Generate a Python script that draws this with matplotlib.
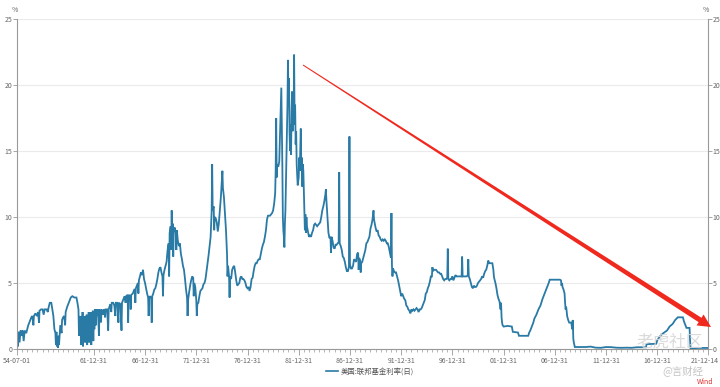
import matplotlib
matplotlib.use("Agg")
import matplotlib.pyplot as plt
from matplotlib.patches import Polygon
from matplotlib.lines import Line2D
import numpy as np

plt.rcParams['font.family'] = ['Noto Sans CJK SC', 'DejaVu Sans']

# ---- data (decimal year, rate %) ----
years = [
 1954.50,1954.55,1954.60,1954.65,1954.75,1954.85,1954.95,1955.05,1955.15,1955.25,1955.40,1955.50,1955.60,1955.70,1955.80,1955.90,
 1956.00,1956.10,1956.15,1956.30,1956.45,1956.55,1956.65,1956.70,1956.85,1957.00,1957.10,1957.20,1957.40,1957.50,1957.60,1957.70,
 1957.85,1957.95,1958.05,1958.15,1958.25,1958.30,1958.35,1958.40,1958.45,1958.50,1958.55,1958.60,1958.70,1958.75,1958.85,1958.90,
 1959.00,1959.10,1959.20,1959.25,1959.40,1959.50,1959.60,1959.75,1959.90,1960.10,1960.30,1960.40,1960.50,1960.55,1960.60,1960.70,
 1960.75,1960.80,1960.85,1960.90,1960.95,1961.00,1961.05,1961.10,1961.15,1961.20,1961.25,1961.30,1961.35,1961.40,1961.45,1961.50,
 1961.55,1961.60,1961.65,1961.70,1961.75,1961.80,1961.85,1961.90,1961.95,1962.00,1962.05,1962.10,1962.20,1962.25,1962.35,1962.40,
 1962.50,1962.55,1962.70,1962.75,1962.90,1963.00,1963.10,1963.15,1963.30,1963.40,1963.45,1963.60,1963.70,1963.75,1963.90,1964.00,
 1964.10,1964.15,1964.30,1964.40,1964.45,1964.60,1964.70,1964.75,1964.90,1965.00,1965.10,1965.15,1965.30,1965.35,1965.40,1965.55,
 1965.60,1965.65,1965.80,1965.95,1966.00,1966.05,1966.10,1966.20,1966.30,1966.35,1966.40,1966.50,1966.60,1966.70,1966.80,1966.90,
 1967.00,1967.10,1967.20,1967.30,1967.35,1967.40,1967.50,1967.60,1967.65,1967.70,1967.80,1967.90,1968.00,1968.10,1968.20,1968.30,
 1968.40,1968.50,1968.60,1968.70,1968.75,1968.80,1968.90,1969.00,1969.10,1969.20,1969.30,1969.35,1969.40,1969.50,1969.55,1969.60,
 1969.65,1969.70,1969.75,1969.80,1969.90,1970.00,1970.05,1970.10,1970.20,1970.30,1970.40,1970.50,1970.60,1970.70,1970.80,1970.90,
 1971.00,1971.10,1971.15,1971.20,1971.30,1971.40,1971.50,1971.60,1971.70,1971.75,1971.80,1971.90,1972.00,1972.05,1972.10,1972.20,
 1972.30,1972.40,1972.50,1972.60,1972.70,1972.80,1972.90,1973.00,1973.10,1973.20,1973.30,1973.40,1973.45,1973.50,1973.55,1973.60,
 1973.70,1973.75,1973.80,1973.90,1974.00,1974.10,1974.20,1974.30,1974.40,1974.50,1974.55,1974.60,1974.70,1974.80,1974.90,1975.00,
 1975.05,1975.10,1975.20,1975.25,1975.30,1975.40,1975.50,1975.60,1975.70,1975.80,1975.90,1976.00,1976.10,1976.20,1976.30,1976.40,
 1976.50,1976.60,1976.70,1976.80,1976.90,1977.00,1977.10,1977.20,1977.30,1977.40,1977.50,1977.60,1977.70,1977.80,1977.90,1978.00,
 1978.10,1978.20,1978.30,1978.40,1978.50,1978.60,1978.70,1978.80,1978.90,1979.00,1979.10,1979.20,1979.30,1979.40,1979.50,1979.60,
 1979.70,1979.75,1979.80,1979.85,1979.90,1980.00,1980.10,1980.20,1980.30,1980.35,1980.40,1980.45,1980.50,1980.55,1980.60,1980.65,
 1980.70,1980.75,1980.80,1980.85,1980.90,1980.95,1981.00,1981.05,1981.10,1981.15,1981.20,1981.25,1981.30,1981.35,1981.40,1981.45,
 1981.50,1981.55,1981.60,1981.65,1981.70,1981.75,1981.80,1981.85,1981.90,1982.00,1982.05,1982.10,1982.20,1982.25,1982.30,1982.35,
 1982.40,1982.45,1982.50,1982.55,1982.60,1982.65,1982.70,1982.75,1982.80,1982.90,1983.00,1983.10,1983.20,1983.30,1983.40,1983.50,
 1983.60,1983.70,1983.80,1983.90,1984.00,1984.10,1984.20,1984.30,1984.40,1984.50,1984.60,1984.65,1984.70,1984.80,1984.90,1985.00,
 1985.10,1985.15,1985.20,1985.30,1985.40,1985.50,1985.60,1985.70,1985.80,1985.90,1985.95,1986.00,1986.10,1986.20,1986.30,1986.40,
 1986.50,1986.60,1986.70,1986.80,1986.90,1986.95,1987.00,1987.10,1987.20,1987.30,1987.40,1987.50,1987.60,1987.70,1987.80,1987.85,
 1987.90,1988.00,1988.05,1988.10,1988.20,1988.30,1988.40,1988.50,1988.60,1988.70,1988.80,1988.90,1989.00,1989.10,1989.20,1989.30,
 1989.35,1989.40,1989.50,1989.60,1989.70,1989.80,1989.90,1990.00,1990.10,1990.20,1990.30,1990.40,1990.50,1990.60,1990.70,1990.80,
 1990.90,1991.00,1991.05,1991.10,1991.15,1991.20,1991.30,1991.40,1991.50,1991.60,1991.70,1991.80,1991.90,1992.00,1992.10,1992.20,
 1992.30,1992.40,1992.50,1992.60,1992.70,1992.80,1992.90,1993.00,1993.10,1993.20,1993.30,1993.40,1993.50,1993.60,1993.70,1993.80,
 1993.90,1994.00,1994.10,1994.20,1994.30,1994.40,1994.50,1994.60,1994.70,1994.80,1994.90,1995.00,1995.05,1995.10,1995.20,1995.30,
 1995.40,1995.50,1995.60,1995.70,1995.80,1995.90,1996.00,1996.10,1996.20,1996.30,1996.40,1996.50,1996.55,1996.60,1996.70,1996.80,
 1996.90,1997.00,1997.10,1997.20,1997.30,1997.40,1997.50,1997.60,1997.70,1997.80,1997.90,1997.95,1998.00,1998.10,1998.20,1998.30,
 1998.40,1998.50,1998.55,1998.60,1998.70,1998.80,1998.90,1999.00,1999.10,1999.20,1999.30,1999.40,1999.50,1999.60,1999.70,1999.80,
 1999.90,2000.00,2000.10,2000.20,2000.30,2000.40,2000.50,2000.60,2000.70,2000.80,2000.90,2001.00,2001.05,2001.10,2001.20,2001.30,
 2001.40,2001.50,2001.60,2001.70,2001.75,2001.80,2001.85,2001.90,2002.00,2002.40,2002.80,2002.90,2003.40,2003.50,2004.40,2004.50,
 2004.60,2004.70,2004.80,2004.90,2005.00,2005.20,2005.40,2005.60,2005.80,2006.00,2006.20,2006.40,2006.50,2007.00,2007.50,2007.60,
 2007.65,2007.70,2007.75,2007.85,2007.95,2008.00,2008.05,2008.10,2008.15,2008.20,2008.30,2008.40,2008.60,2008.70,2008.75,2008.80,
 2008.85,2008.95,2009.50,2010.00,2010.50,2011.00,2011.50,2012.00,2012.50,2013.00,2013.50,2014.00,2014.50,2015.00,2015.90,2015.95,
 2016.50,2016.90,2017.00,2017.20,2017.50,2017.95,2018.20,2018.50,2018.75,2019.00,2019.50,2019.60,2019.70,2019.85,2020.15,2020.20,
 2020.25,2021.00,2021.95]

rates = [
 0.8,1.3,0.2,1.3,0.5,1.4,1.0,1.4,0.6,1.4,1.2,1.5,1.8,2.0,2.2,2.4,
 2.5,1.8,2.5,2.7,2.5,2.8,2.0,2.9,3.0,3.0,2.6,3.0,3.0,2.8,3.2,3.5,
 3.5,3.0,2.5,1.5,1.2,0.3,1.3,0.2,0.9,0.1,1.0,0.3,1.5,1.8,1.2,2.2,
 2.4,2.5,1.8,2.8,3.2,3.4,3.6,3.9,4.0,3.9,3.9,3.5,3.0,1.0,2.5,2.0,
 0.3,2.5,1.0,2.8,0.2,2.2,0.8,2.5,0.5,2.0,1.0,2.6,0.3,2.0,0.8,2.8,
 0.5,2.5,1.2,2.8,0.3,2.6,1.0,2.9,0.6,2.8,1.5,3.0,1.8,3.0,2.5,3.0,
 1.0,3.0,2.0,3.0,2.6,3.0,2.4,3.0,3.0,1.4,3.0,3.4,2.8,3.5,3.5,3.3,
 2.5,3.5,3.5,2.0,3.5,3.4,1.4,3.5,3.8,4.0,3.5,4.0,4.1,2.0,4.1,4.0,
 3.0,4.1,4.2,4.5,4.5,3.5,4.6,4.8,5.0,4.2,5.2,5.5,5.8,5.6,6.0,5.3,
 5.0,4.6,4.2,3.9,2.5,3.9,4.0,3.8,2.0,4.0,4.2,4.5,4.6,4.9,5.3,5.8,
 6.1,6.2,5.8,5.5,4.0,5.6,6.0,6.3,6.6,7.5,8.0,5.5,8.8,9.3,7.5,10.5,
 8.0,9.5,7.0,9.0,9.2,8.8,7.5,9.0,8.2,7.8,8.0,7.2,6.8,6.3,6.0,5.3,
 4.5,3.9,2.5,3.7,4.3,4.8,5.2,5.5,5.4,4.0,5.0,4.7,3.7,2.5,3.4,3.5,
 4.0,4.4,4.5,4.6,4.9,5.0,5.3,5.9,6.5,7.1,7.8,8.5,9.5,10.4,14.0,10.5,
 10.8,9.0,10.0,9.9,9.6,8.9,9.5,10.5,11.5,12.9,13.5,12.2,11.5,10.2,9.0,7.2,
 5.5,6.3,5.5,3.9,5.5,5.3,6.0,6.2,6.3,5.8,5.2,4.8,4.9,5.0,5.4,5.5,
 5.3,5.3,5.2,5.0,4.7,4.6,4.7,4.4,4.7,5.3,5.4,5.9,6.3,6.5,6.5,6.7,
 6.8,6.8,7.2,7.6,7.9,8.1,8.5,9.0,9.8,10.1,10.1,10.1,10.2,10.3,10.5,11.0,
 11.8,13.5,17.5,13.0,14.0,13.8,14.2,17.0,19.8,17.0,14.0,10.0,9.0,8.5,7.7,9.5,
 10.5,12.5,14.5,16.5,18.5,21.9,19.0,20.5,16.5,15.0,17.0,14.7,18.0,19.5,16.5,19.0,
 17.5,22.3,17.0,18.5,15.5,16.5,14.0,13.2,12.4,13.0,14.5,13.5,16.7,14.0,14.5,12.3,
 14.0,13.5,12.0,10.5,9.0,10.2,8.8,10.0,9.3,8.9,8.5,8.6,8.5,8.8,9.0,9.4,
 9.5,9.4,9.3,9.4,9.5,9.6,10.0,10.5,10.8,11.2,11.7,12.1,11.3,10.0,8.8,8.4,
 8.5,7.3,8.5,8.2,7.7,7.6,7.9,7.9,8.0,8.1,13.4,8.0,7.8,7.5,7.0,6.9,
 6.6,6.2,5.9,5.9,6.2,16.1,6.4,6.1,6.1,6.3,6.8,6.7,6.6,7.2,7.3,6.0,
 6.9,6.7,5.8,6.5,6.6,6.9,7.2,7.5,8.0,8.1,8.3,8.5,9.1,9.4,9.8,10.5,
 9.8,9.6,9.2,8.9,9.0,8.6,8.5,8.3,8.2,8.3,8.2,8.3,8.2,8.0,8.0,7.7,
 7.3,6.9,10.3,6.3,5.5,6.1,5.9,5.8,5.8,5.5,5.2,4.8,4.4,4.0,4.2,4.0,
 3.8,3.7,3.3,3.2,3.0,2.9,2.7,3.0,2.9,3.0,2.9,3.0,3.1,3.0,2.8,3.0,
 3.0,3.1,3.3,3.5,3.7,4.2,4.3,4.6,4.8,5.1,5.5,5.5,6.2,5.9,6.0,6.0,
 6.0,5.9,5.8,5.8,5.7,5.7,5.5,5.3,5.2,5.3,5.3,5.4,7.6,5.3,5.2,5.3,
 5.3,5.5,5.2,5.4,5.6,5.5,5.5,5.5,5.5,5.5,5.5,7.0,5.5,5.5,5.5,5.5,
 5.5,5.6,6.8,5.5,5.3,5.0,4.7,4.6,4.8,4.7,4.7,4.8,5.0,5.1,5.2,5.3,
 5.5,5.4,5.7,5.9,6.0,6.3,6.7,6.5,6.5,6.5,6.5,6.0,5.5,5.3,5.0,4.6,
 4.1,3.8,3.6,3.0,3.5,2.4,2.0,1.8,1.7,1.75,1.7,1.3,1.25,1.0,1.0,1.25,
 1.4,1.6,1.8,2.0,2.3,2.6,3.0,3.3,3.8,4.2,4.6,5.0,5.25,5.25,5.25,5.2,
 4.8,5.0,4.7,4.5,4.2,3.5,3.0,3.2,2.9,2.5,2.2,2.0,2.0,1.5,2.2,0.8,
 0.5,0.15,0.15,0.15,0.18,0.1,0.09,0.15,0.14,0.1,0.09,0.1,0.09,0.13,0.13,0.37,
 0.38,0.4,0.66,0.9,1.15,1.4,1.7,1.9,2.2,2.4,2.4,2.1,1.9,1.6,1.6,0.65,
 0.05,0.08,0.08]

xtick_pos = [1954.5, 1962.0, 1967.0, 1972.0, 1977.0, 1982.0, 1987.0, 1992.0,
             1997.0, 2002.0, 2007.0, 2012.0, 2017.0, 2021.95]
xtick_labels = ['54-07-01', '61-12-31', '66-12-31', '71-12-31', '76-12-31',
                '81-12-31', '86-12-31', '91-12-31', '96-12-31', '01-12-31',
                '06-12-31', '11-12-31', '16-12-31', '21-12-14']
yticks = [0, 5, 10, 15, 20, 25]
series_name = '美国:联邦基金利率(日)'

LINE = '#2a7aa6'
GREY = '#666666'

W, H = 720, 387
fig = plt.figure(figsize=(W / 100, H / 100), dpi=100)
ax = fig.add_axes([17 / W, 1 - 349 / H, (708 - 17) / W, (349 - 19) / H])

ax.plot(years, rates, color=LINE, lw=1.3, solid_joinstyle='miter')
ax.set_xlim(1954.5, 2021.95)
ax.set_ylim(0, 25)

ax.set_yticks(yticks)
ax.yaxis.grid(True, color='#ebebeb', lw=0.8)
ax.set_axisbelow(True)
ax.set_xticks(xtick_pos)
ax.set_xticklabels(xtick_labels)
ax.set_xticks(np.arange(1955.0, 2021.9, 0.5), minor=True)

ax.spines['top'].set_visible(False)
for s in ['left', 'right', 'bottom']:
    ax.spines[s].set_color('#999999')
    ax.spines[s].set_linewidth(0.8)

ax.tick_params(axis='x', which='major', length=4, width=0.6, color='#999999',
               labelsize=5.0, labelcolor=GREY, pad=1.5)
ax.tick_params(axis='x', which='minor', length=2.5, width=0.5, color='#999999')
ax.tick_params(axis='y', which='major', length=3, width=0.6, color='#999999',
               labelsize=5.0, labelcolor=GREY, pad=0.5, left=True, right=True,
               labelleft=True, labelright=True)
# keep the last date label inside the picture
lbls = ax.get_xticklabels()
lbls[-1].set_horizontalalignment('right')
lbls[-1].set_x(2021.95)
import matplotlib.transforms as mtrans
lbls[-1].set_transform(lbls[-1].get_transform() + mtrans.ScaledTranslation(11 / 100, 0, fig.dpi_scale_trans))

fig.text(15 / W, 1 - 10 / H, '%', fontsize=5, color=GREY, ha='center', va='center')
fig.text(706 / W, 1 - 10 / H, '%', fontsize=5, color=GREY, ha='center', va='center')

# legend
handle = Line2D([], [], color=LINE, lw=1.2)
fig.legend([handle], [series_name], loc='center', bbox_to_anchor=(370 / W, 1 - 372 / H),
           frameon=False, fontsize=5.3, labelcolor='#555555', handlelength=1.6,
           handletextpad=0.4, borderpad=0)

# red trend arrow (pixel geometry converted to figure fraction)
p0 = np.array([303.0, 65.0])
tip = np.array([711.0, 327.0])
d = tip - p0
u = d / np.hypot(*d)
n = np.array([-u[1], u[0]])
base = tip - 13 * u
pts = [p0 + 0.5 * n, base + 2.6 * n, base + 6.5 * n, tip,
       base - 6.5 * n, base - 2.6 * n, p0 - 0.5 * n]
pts = [(x / W, 1 - y / H) for x, y in pts]
fig.patches.append(Polygon(pts, closed=True, transform=fig.transFigure,
                           facecolor='#f0291f', edgecolor='none', zorder=5))

# watermarks / source
fig.text(670 / W, 1 - 342 / H, '老虎社区', fontsize=12, color='#d6d6d6',
         ha='center', va='center', alpha=0.9)
fig.text(683 / W, 1 - 371 / H, '@言财经', fontsize=7.5, color='#c4c4c4',
         ha='center', va='center')
fig.text(705 / W, 1 - 382 / H, 'Wind', fontsize=5, color='#e03030',
         ha='center', va='center')

fig.savefig('out.png', dpi=100)
